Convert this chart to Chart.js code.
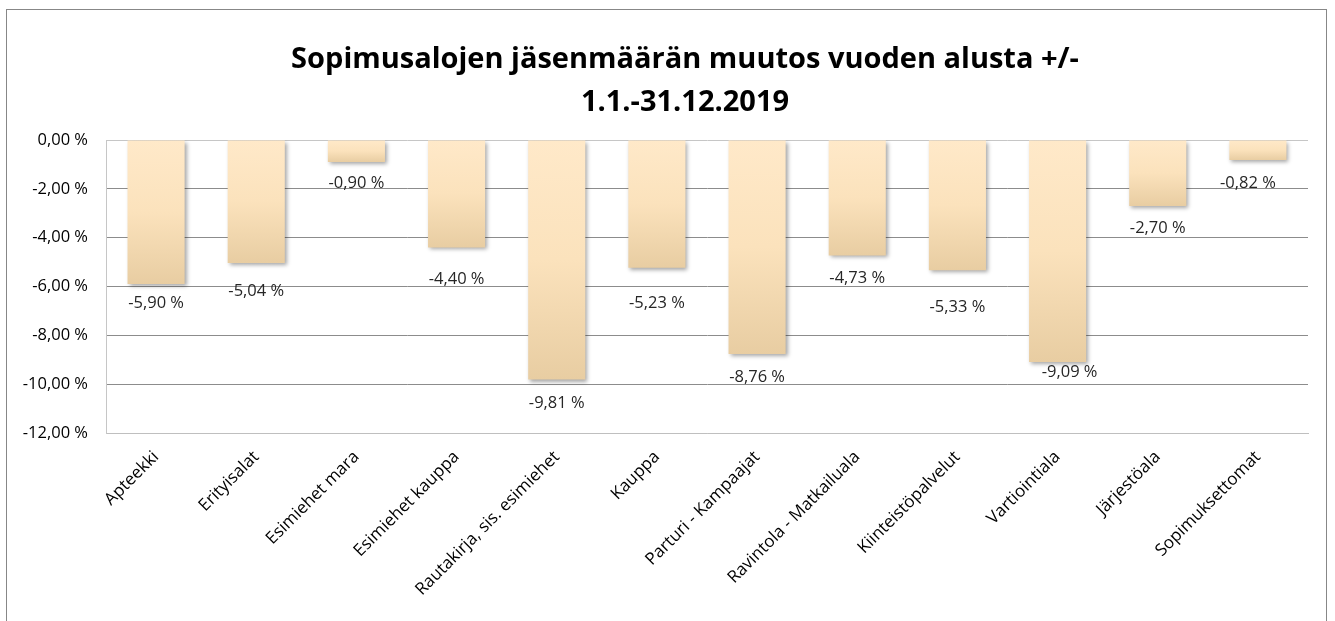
<!DOCTYPE html>
<html>
<head>
<meta charset="utf-8">
<script src="https://cdn.jsdelivr.net/npm/chart.js@4.4.1/dist/chart.umd.min.js"></script>
<style>
  html, body { margin: 0; padding: 0; background: #fff; }
  #wrap { width: 1335px; height: 621px; position: relative; }
</style>
</head>
<body>
<div id="wrap"><canvas id="myChart"></canvas></div>
<script>
// data
const categories = [
  "Apteekki",
  "Erityisalat",
  "Esimiehet mara",
  "Esimiehet kauppa",
  "Rautakirja, sis. esimiehet",
  "Kauppa",
  "Parturi - Kampaajat",
  "Ravintola - Matkailuala",
  "Kiinteistöpalvelut",
  "Vartiointiala",
  "Järjestöala",
  "Sopimuksettomat",
];
const muutos = [-5.9, -5.04, -0.9, -4.4, -9.81, -5.23, -8.76, -4.73, -5.33, -9.09, -2.7, -0.82];
const yTicks = [0, -2, -4, -6, -8, -10, -12];
const titleLines = ["Sopimusalojen jäsenmäärän muutos vuoden alusta +/-", "1.1.-31.12.2019"];

const fontName = "'Open Sans', 'Noto Sans', sans-serif";

const pct = (v) => {
  let s = Math.abs(v) < 1e-9 ? "0,00" : v.toFixed(2).replace(".", ",");
  return s + " %";
};

// outer frame like the excel chart area
const framePlugin = {
  id: "frame",
  beforeDraw(chart) {
    const c = chart.ctx;
    c.save();
    c.fillStyle = "#fff";
    c.fillRect(0, 0, chart.width, chart.height);
    c.strokeStyle = "#878787";
    c.lineWidth = 1;
    c.strokeRect(6.5, 9.5, 1320, 700);
    c.restore();
  },
};

// chart title (excel centres it a bit left of the plot area)
const titlePlugin = {
  id: "bigTitle",
  afterDraw(chart, args, opts) {
    const c = chart.ctx;
    c.save();
    c.font = "bold 29px " + fontName;
    c.fillStyle = "#000";
    c.textAlign = "center";
    c.textBaseline = "middle";
    titleLines.forEach((t, i) => {
      c.fillText(t, opts.x, opts.y + i * opts.lineHeight);
    });
    c.restore();
  },
};

// soft shadow under the bars
const shadowPlugin = {
  id: "barShadow",
  beforeDatasetDraw(chart) {
    const c = chart.ctx;
    c.save();
    c.shadowColor = "rgba(0,0,0,0.35)";
    c.shadowBlur = 4;
    c.shadowOffsetX = 2;
    c.shadowOffsetY = 2;
  },
  afterDatasetDraw(chart) {
    chart.ctx.restore();
  },
};

// value labels under the bar ends
const valueLabels = {
  id: "valueLabels",
  afterDatasetsDraw(chart, args, opts) {
    const c = chart.ctx;
    const meta = chart.getDatasetMeta(0);
    c.save();
    c.font = "16.5px " + fontName;
    c.fillStyle = "#262626";
    c.textAlign = "center";
    c.textBaseline = "middle";
    meta.data.forEach((bar, i) => {
      const dy = opts.dy[i] || 0;
      const dx = opts.dx[i] || 0;
      c.fillText(pct(muutos[i]), bar.x + dx, bar.y + dy);
    });
    c.restore();
  },
};

const barFill = (context) => {
  const chart = context.chart;
  if (!chart.chartArea || context.raw === undefined) return "#f5dcb4";
  const y = chart.scales.y;
  const top = y.getPixelForValue(0);
  const bottom = y.getPixelForValue(context.raw);
  if (!isFinite(top) || !isFinite(bottom) || bottom - top < 1) return "#f5dcb4";
  const g = chart.ctx.createLinearGradient(0, top, 0, bottom);
  g.addColorStop(0, "#ffe9c9");
  g.addColorStop(0.5, "#fbe2bc");
  g.addColorStop(1, "#e8cda2");
  return g;
};

var ctx = document.getElementById("myChart").getContext("2d");
var myChart = new Chart(ctx, {
  type: "bar",
  data: {
    labels: categories,
    datasets: [
      {
        label: "muutos",
        data: muutos,
        backgroundColor: barFill,
        borderWidth: 0,
        categoryPercentage: 1,
        barPercentage: 0.57,
      },
    ],
  },
  options: {
    responsive: true,
    maintainAspectRatio: false,
    animation: false,
    layout: {
      padding: { left: 14, right: 27, top: 140, bottom: 0 },
    },
    plugins: {
      legend: { display: false },
      tooltip: { enabled: false },
      title: { display: false },
      bigTitle: { x: 685, y: 60, lineHeight: 43 },
      valueLabels: {
        dy: [19, 28, 21, 32, 24, 36, 23, 23, 37, 10, 22, 23],
        dx: [0, 0, 0, 0, 0, 0, 0, 0, 0, 12, 0, -10],
      },
    },
    scales: {
      x: {
        grid: { display: false, drawTicks: false },
        border: { display: true, color: "#bfbfbf", width: 1 },
        ticks: {
          autoSkip: false,
          minRotation: 45,
          maxRotation: 45,
          padding: 14,
          color: "#000",
          font: { family: fontName, size: 17 },
        },
        afterFit(scale) {
          scale.height = 188;
        },
      },
      y: {
        min: -12,
        max: 0,
        afterBuildTicks(scale) {
          scale.ticks = yTicks.map((v) => ({ value: v }));
        },
        grid: {
          drawTicks: false,
          color: (c) => (c.tick && (c.tick.value === 0 || c.tick.value === -12) ? "#c6c6c6" : "#8c8c8c"),
          lineWidth: 1,
        },
        border: { display: true, color: "#c6c6c6", width: 1 },
        ticks: {
          padding: 18,
          color: "#000",
          font: { family: fontName, size: 16.5 },
          callback: (v) => pct(v),
        },
        afterFit(scale) {
          scale.width = 92;
        },
      },
    },
  },
  plugins: [framePlugin, shadowPlugin, valueLabels, titlePlugin],
});
</script>
</body>
</html>
